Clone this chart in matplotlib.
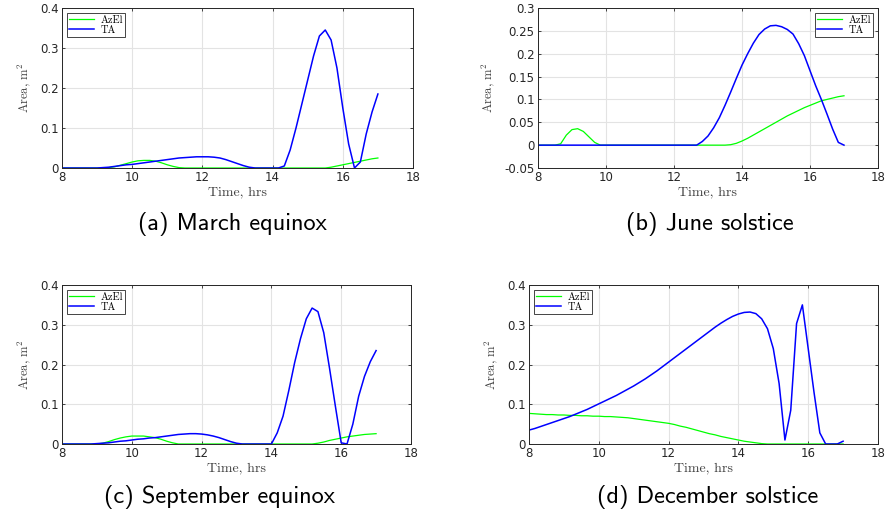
import numpy as np
import matplotlib.pyplot as plt

plt.rcParams['mathtext.fontset'] = 'cm'
plt.rcParams['axes.unicode_minus'] = False
plt.rcParams['font.family'] = 'DejaVu Sans'

# 10 minute samples, 8:00 to 17:00
hours = np.linspace(8, 17, 55)

azel_mar = [0, 0, 0, 0, 0, 0,
            0, 0, 0.001, 0.003, 0.007, 0.011,
            0.015, 0.018, 0.019, 0.019, 0.017, 0.013,
            0.008, 0.004, 0.001, 0, 0, 0,
            0, 0, 0, 0, 0, 0,
            0, 0, 0, 0, 0, 0,
            0, 0, 0, 0, 0, 0,
            0, 0, 0, 0, 0.002, 0.005,
            0.008, 0.011, 0.014, 0.017, 0.020, 0.023,
            0.025]
ta_mar = [0, 0, 0, 0, 0, 0,
          0, 0.001, 0.002, 0.004, 0.006, 0.008,
          0.009, 0.011, 0.013, 0.015, 0.017, 0.019,
          0.021, 0.023, 0.025, 0.026, 0.027, 0.028,
          0.028, 0.028, 0.027, 0.025, 0.021, 0.016,
          0.011, 0.006, 0.002, 0, 0, 0,
          0, 0, 0.005, 0.045, 0.10, 0.16,
          0.22, 0.28, 0.33, 0.345, 0.32, 0.25,
          0.15, 0.06, 0.0, 0.015, 0.085, 0.14,
          0.185]

azel_jun = [0, 0, 0, 0, 0.003, 0.022,
            0.034, 0.036, 0.030, 0.018, 0.006, 0,
            0, 0, 0, 0, 0, 0,
            0, 0, 0, 0, 0, 0,
            0, 0, 0, 0, 0, 0,
            0, 0, 0, 0, 0.001, 0.004,
            0.009, 0.015, 0.022, 0.029, 0.036, 0.043,
            0.050, 0.057, 0.064, 0.070, 0.076, 0.082,
            0.087, 0.092, 0.097, 0.100, 0.103, 0.106,
            0.108]
ta_jun = [0, 0, 0, 0, 0, 0,
          0, 0, 0, 0, 0, 0,
          0, 0, 0, 0, 0, 0,
          0, 0, 0, 0, 0, 0,
          0, 0, 0, 0, 0, 0.008,
          0.020, 0.038, 0.060, 0.087, 0.116, 0.146,
          0.175, 0.200, 0.223, 0.242, 0.254, 0.261,
          0.262, 0.259, 0.253, 0.243, 0.222, 0.196,
          0.163, 0.130, 0.100, 0.068, 0.035, 0.006,
          0.0]

azel_sep = [0, 0, 0, 0, 0, 0,
            0, 0.002, 0.006, 0.011, 0.015, 0.018,
            0.020, 0.020, 0.020, 0.018, 0.016, 0.012,
            0.007, 0.003, 0, 0, 0, 0,
            0, 0, 0, 0, 0, 0,
            0, 0, 0, 0, 0, 0,
            0, 0, 0, 0, 0, 0,
            0, 0, 0.002, 0.005, 0.009, 0.012,
            0.015, 0.018, 0.020, 0.022, 0.024, 0.025,
            0.026]
ta_sep = [0, 0, 0, 0, 0, 0,
          0.001, 0.002, 0.003, 0.005, 0.007, 0.008,
          0.010, 0.012, 0.013, 0.015, 0.016, 0.018,
          0.020, 0.022, 0.024, 0.025, 0.026, 0.026,
          0.025, 0.023, 0.020, 0.016, 0.011, 0.006,
          0.002, 0, 0, 0, 0, 0,
          0, 0.028, 0.07, 0.135, 0.205, 0.265,
          0.315, 0.342, 0.333, 0.28, 0.19, 0.095,
          0.003, 0.0, 0.05, 0.12, 0.17, 0.207,
          0.235]

azel_dec = [0.077, 0.076, 0.075, 0.074, 0.074, 0.073,
            0.073, 0.072, 0.072, 0.071, 0.071, 0.070,
            0.070, 0.069, 0.069, 0.068, 0.067, 0.066,
            0.064, 0.062, 0.060, 0.058, 0.056, 0.054,
            0.052, 0.049, 0.045, 0.042, 0.038, 0.034,
            0.030, 0.026, 0.023, 0.019, 0.016, 0.013,
            0.010, 0.007, 0.005, 0.003, 0.001, 0,
            0, 0, 0, 0, 0, 0,
            0, 0, 0, 0, 0, 0,
            0]
ta_dec = [0.035, 0.039, 0.044, 0.049, 0.054, 0.059,
          0.064, 0.069, 0.075, 0.081, 0.087, 0.094,
          0.101, 0.108, 0.115, 0.122, 0.130, 0.138,
          0.146, 0.155, 0.164, 0.174, 0.184, 0.195,
          0.206, 0.217, 0.228, 0.239, 0.250, 0.261,
          0.272, 0.283, 0.294, 0.304, 0.313, 0.321,
          0.327, 0.331, 0.332, 0.328, 0.315, 0.290,
          0.240, 0.152, 0.010, 0.085, 0.303, 0.350,
          0.240, 0.130, 0.028, 0.0, 0.0, 0.0,
          0.007]

captions = ['(a) March equinox', '(b) June solstice',
            '(c) September equinox', '(d) December solstice']
xticks = [8, 10, 12, 14, 16, 18]
yticks_main = [0, 0.1, 0.2, 0.3, 0.4]
yticks_jun = [-0.05, 0, 0.05, 0.1, 0.15, 0.2, 0.25, 0.3]

W, H = 886, 516
fig = plt.figure(figsize=(W / 100, H / 100), dpi=100)


def px_axes(x0, x1, ytop, ybot):
    return fig.add_axes([x0 / W, 1 - ybot / H, (x1 - x0) / W, (ybot - ytop) / H])


panels = [
    (px_axes(62, 413, 8, 168), azel_mar, ta_mar, yticks_main, 'upper left', 232, 224),
    (px_axes(538, 878, 8, 168), azel_jun, ta_jun, yticks_jun, 'upper right', 710, 224),
    (px_axes(62, 411, 285, 444), azel_sep, ta_sep, yticks_main, 'upper left', 219, 497),
    (px_axes(529, 878, 285, 444), azel_dec, ta_dec, yticks_main, 'upper left', 708, 497),
]

for (ax, azel, ta, yt, loc, cx, cy), cap in zip(panels, captions):
    ax.plot(hours, azel, color=(0, 1, 0), lw=0.9, label='AzEl')
    ax.plot(hours, ta, color=(0, 0, 1), lw=1.1, label='TA')
    ax.set_xlim(8, 18)
    ax.set_ylim(yt[0], yt[-1])
    ax.set_xticks(xticks)
    ax.set_yticks(yt)
    ax.set_yticklabels(['%g' % v for v in yt])
    ax.grid(True, color='#e3e3e3', lw=0.8)
    ax.set_axisbelow(True)
    ax.tick_params(direction='in', length=2.5, width=0.6, labelsize=8.5,
                   top=True, right=True, pad=2.5, colors='#262626')
    for s in ax.spines.values():
        s.set_color('#262626')
        s.set_linewidth(0.7)
    ax.set_xlabel('Time, hrs', family='cmr10', fontsize=10, color='#404040', labelpad=1)
    ax.set_ylabel(r'Area, $\mathrm{m}^2$', family='cmr10', fontsize=9, color='#404040',
                  labelpad=5)
    leg = ax.legend(loc=loc, prop={'family': 'cmr10', 'size': 7.5},
                    fancybox=False, framealpha=1, edgecolor='#262626',
                    handlelength=2.4, borderpad=0.2, labelspacing=0.05,
                    handletextpad=0.6, borderaxespad=0.5)
    leg.get_frame().set_linewidth(0.6)
    fig.text(cx / W, 1 - cy / H, cap, family='cmss10', fontsize=17.5,
             ha='center', va='center')

fig.savefig('out.png', dpi=100)
